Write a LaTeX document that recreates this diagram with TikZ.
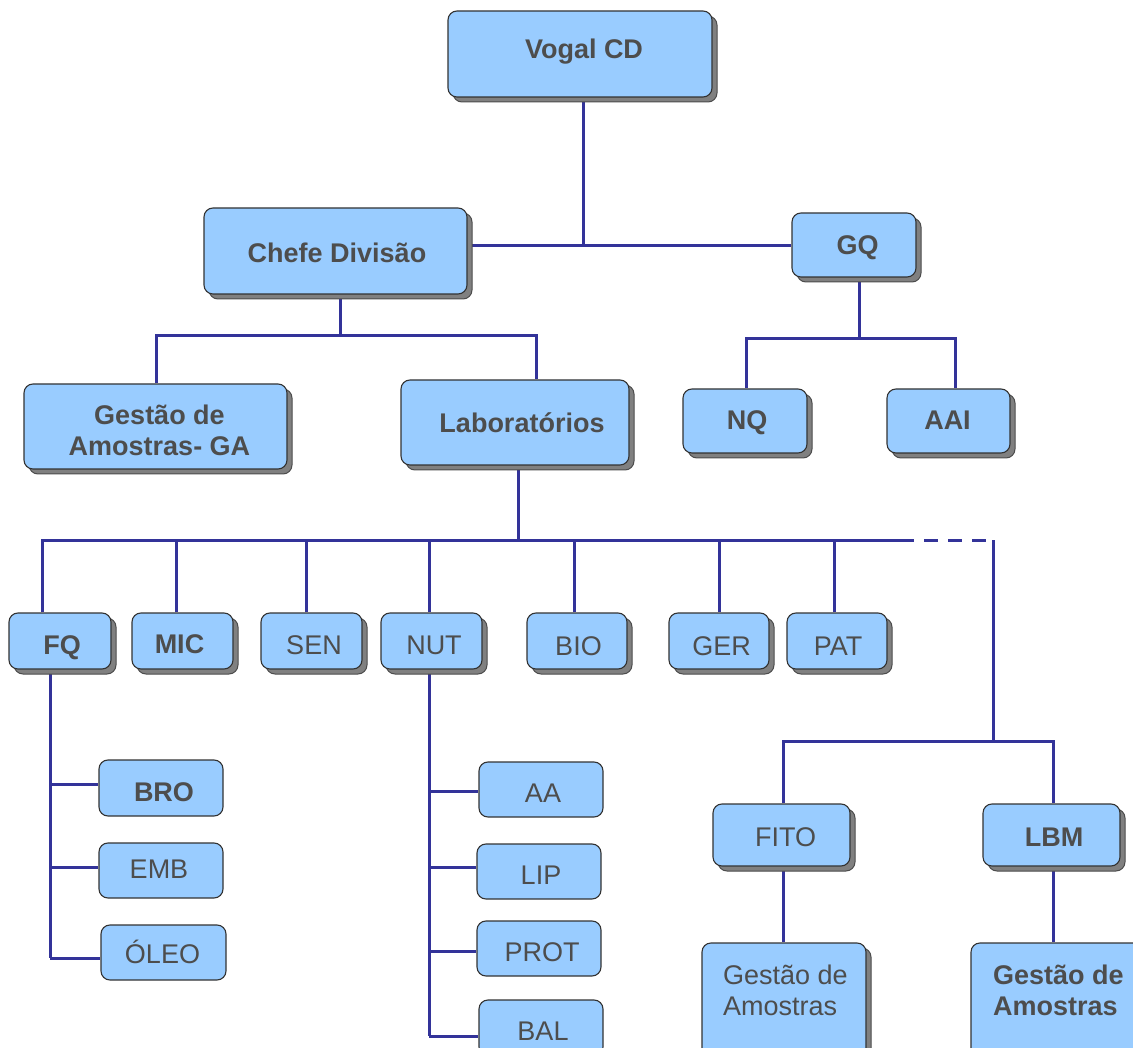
\documentclass[tikz,border=0pt]{standalone}
\usepackage{fontspec}
\setmainfont{Liberation Sans}
\usetikzlibrary{shadows,backgrounds}
\definecolor{boxfill}{HTML}{99CCFF}
\definecolor{txtc}{HTML}{4D4D4D}
\definecolor{lnc}{HTML}{333399}
\definecolor{shd}{HTML}{808080}
\newcommand\fsz{\fontsize{27}{31}\selectfont}
\newcommand\rs[2]{\hspace*{#1}#2}
\newcommand\ls[2]{#2\hspace*{#1}}
\tikzset{
  box/.style={draw=black!80, line width=1.1pt, fill=boxfill, rounded corners=9pt,
    inner sep=0pt, text=txtc, font=\fsz, align=center},
  shbox/.style={box, general shadow={fill=shd, draw=black!70, line width=1pt,
    shadow xshift=5pt, shadow yshift=-5pt}},
  bf/.style={font=\fsz\bfseries},
  tv/.style 2 args={text height=#1, text depth=#2},
  lbl/.style={inner sep=0pt, text=txtc, font=\fsz, align=left},
  conn/.style={draw=lnc, line width=3pt},
  dashconn/.style={draw=lnc, line width=3pt, dash pattern=on 14pt off 10pt},
}
\begin{document}
\begin{tikzpicture}[x=1pt,y=-1pt]
\useasboundingbox (0,0) rectangle (1133,1048);

% level 0-1
\node[shbox,bf,tv={19.3pt}{10pt},minimum width=264pt,minimum height=86pt] (vogal) at (580,54) {\rs{8pt}{Vogal CD}};
\node[shbox,bf,tv={23.3pt}{0pt},minimum width=263pt,minimum height=86pt] (chefe) at (335.5,251) {\rs{3pt}{Chefe Divisão}};
\node[shbox,bf,tv={19.3pt}{0pt},minimum width=124pt,minimum height=64pt] (gq) at (854,245) {\rs{7pt}{GQ}};
% level 2
\node[shbox,bf,tv={58.7pt}{0pt},minimum width=263pt,minimum height=85pt] (ga) at (155.5,426.5) {\rs{8pt}{Gestão de}\\\rs{8pt}{Amostras- GA}};
\node[shbox,bf,tv={19.3pt}{0pt},minimum width=228pt,minimum height=85pt] (lab) at (515,422.5) {\rs{14pt}{Laboratórios}};
\node[shbox,bf,tv={19.3pt}{3pt},minimum width=124pt,minimum height=64pt] (nq) at (745,421) {\rs{4pt}{NQ}};
\node[shbox,bf,tv={19.3pt}{3pt},minimum width=123pt,minimum height=64pt] (aai) at (948.5,421) {\ls{2pt}{AAI}};
% laboratories
\node[shbox,bf,tv={27.3pt}{0pt},minimum width=102pt,minimum height=56pt] (fq) at (60,641) {\rs{4pt}{FQ}};
\node[shbox,bf,tv={25.3pt}{0pt},minimum width=101pt,minimum height=56pt] (mic) at (182.5,641) {\ls{6pt}{MIC}};
\node[shbox,tv={27.3pt}{0pt},minimum width=101pt,minimum height=56pt] (sen) at (311.5,641) {\rs{5pt}{SEN}};
\node[shbox,tv={27.3pt}{0pt},minimum width=101pt,minimum height=56pt] (nut) at (431.5,641) {\rs{5pt}{NUT}};
\node[shbox,tv={29.3pt}{0pt},minimum width=100pt,minimum height=56pt] (bio) at (577,641) {\rs{3pt}{BIO}};
\node[shbox,tv={29.3pt}{0pt},minimum width=100pt,minimum height=56pt] (ger) at (719,641) {\rs{5pt}{GER}};
\node[shbox,tv={29.3pt}{0pt},minimum width=100pt,minimum height=56pt] (pat) at (837,641) {\rs{2pt}{PAT}};
% FQ sub
\node[box,bf,tv={26.3pt}{0pt},minimum width=124pt,minimum height=56pt] (bro) at (161,788) {\rs{6pt}{BRO}};
\node[box,tv={19.3pt}{4pt},minimum width=124pt,minimum height=55pt] (emb) at (161,870.5) {\ls{4pt}{EMB}};
\node[box,tv={21.3pt}{0pt},minimum width=125pt,minimum height=55pt] (oleo) at (163.5,952.5) {\ls{2pt}{ÓLEO}};
% NUT sub
\node[box,tv={25.3pt}{0pt},minimum width=124pt,minimum height=55pt] (aa) at (541,789.5) {\rs{4pt}{AA}};
\node[box,tv={25.3pt}{0pt},minimum width=124pt,minimum height=55pt] (lip) at (539,871.5) {\rs{4pt}{LIP}};
\node[box,tv={26.3pt}{0pt},minimum width=124pt,minimum height=55pt] (prot) at (539,948.5) {\rs{6pt}{PROT}};
\node[box,tv={24.3pt}{0pt},minimum width=124pt,minimum height=56pt] (bal) at (541,1028) {\rs{4pt}{BAL}};
% right branch
\node[shbox,tv={22.3pt}{0pt},minimum width=137pt,minimum height=62pt] (fito) at (781.5,835) {\rs{8pt}{FITO}};
\node[shbox,bf,tv={22.3pt}{0pt},minimum width=137pt,minimum height=62pt] (lbm) at (1051.5,835) {\rs{5pt}{LBM}};
\node[shbox,minimum width=164pt,minimum height=120pt] (gs1) at (784,1003) {};
\node[lbl] (gs1t) at (785.3,990.7) {Gestão de\\Amostras};
\node[shbox,minimum width=176pt,minimum height=120pt] (gs2) at (1059,1003) {};
\node[lbl,font=\fsz\bfseries] (gs2t) at (1058.3,990.7) {Gestão de\\Amostras};

% junction coordinates
\coordinate (j1) at (583,246);
\coordinate (c1) at (340,336);
\coordinate (c1l) at (156,336);
\coordinate (c1r) at (536,336);
\coordinate (g1) at (859,339);
\coordinate (g1l) at (746,339);
\coordinate (g1r) at (955,339);
\coordinate (l1) at (518,540);
\coordinate (lb0) at (42,540);
\coordinate (lbe) at (900,540);
\coordinate (lbd) at (993,540);
\coordinate (dmic) at (176,540);
\coordinate (dsen) at (306,540);
\coordinate (dnut) at (429,540);
\coordinate (dbio) at (574,540);
\coordinate (dger) at (719,540);
\coordinate (dpat) at (834,540);
\coordinate (r1) at (993,741);
\coordinate (rl) at (783,741);
\coordinate (rr) at (1053,741);
\coordinate (fb1) at (50,784);
\coordinate (fb2) at (50,867);
\coordinate (fb3) at (50,958);
\coordinate (nb1) at (429,791);
\coordinate (nb2) at (429,867);
\coordinate (nb3) at (429,951);
\coordinate (nb4) at (429,1036);

\begin{pgfonlayer}{background}
\draw[conn] (vogal.south -| j1) -- (j1);
\draw[conn] (chefe.east |- j1) -- (gq.west |- j1);
\draw[conn] (chefe.south -| c1) -- (c1);
\draw[conn] (ga.north -| c1l) -- (c1l) -- (c1r) -- (lab.north -| c1r);
\draw[conn] (gq.south -| g1) -- (g1);
\draw[conn] (nq.north -| g1l) -- (g1l) -- (g1r) -- (aai.north -| g1r);
\draw[conn] (lab.south -| l1) -- (l1);
\draw[conn] (fq.north -| lb0) -- (lb0) -- (lbe);
\draw[dashconn] (lbe) -- (lbd);
\draw[conn] (mic.north -| dmic) -- (dmic);
\draw[conn] (sen.north -| dsen) -- (dsen);
\draw[conn] (nut.north -| dnut) -- (dnut);
\draw[conn] (bio.north -| dbio) -- (dbio);
\draw[conn] (ger.north -| dger) -- (dger);
\draw[conn] (pat.north -| dpat) -- (dpat);
\draw[conn] (lbd) -- (r1);
\draw[conn] (fito.north -| rl) -- (rl) -- (rr) -- (lbm.north -| rr);
\draw[conn] (fito.south -| rl) -- (gs1.north -| rl);
\draw[conn] (lbm.south -| rr) -- (gs2.north -| rr);
\draw[conn] (fq.south -| fb1) -- (fb3);
\draw[conn] (fb1) -- (bro.west |- fb1);
\draw[conn] (fb2) -- (emb.west |- fb2);
\draw[conn] (fb3) -- (oleo.west |- fb3);
\draw[conn] (nut.south -| nb1) -- (nb4);
\draw[conn] (nb1) -- (aa.west |- nb1);
\draw[conn] (nb2) -- (lip.west |- nb2);
\draw[conn] (nb3) -- (prot.west |- nb3);
\draw[conn] (nb4) -- (bal.west |- nb4);
\end{pgfonlayer}
\end{tikzpicture}
\end{document}
